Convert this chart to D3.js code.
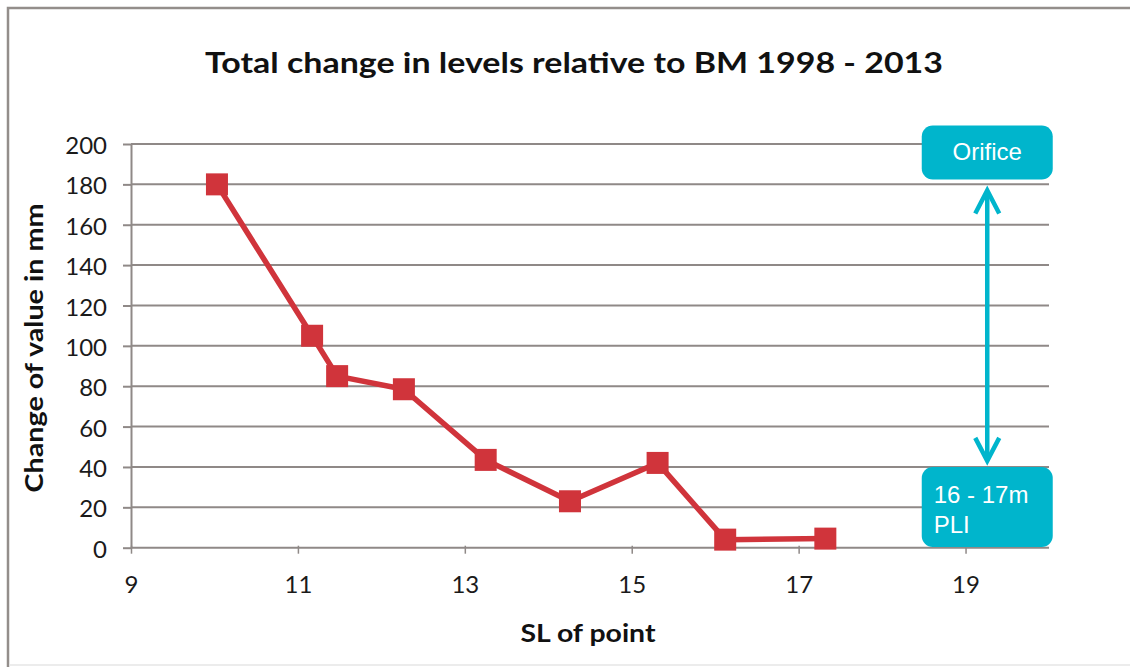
<!DOCTYPE html>
<html>
<head>
<meta charset="utf-8">
<script src="https://cdn.jsdelivr.net/npm/d3@7"></script>
<style>
  html, body { margin: 0; padding: 0; background: #ffffff; }
  svg { display: block; }
</style>
</head>
<body>
<svg id="chart" width="1130" height="667"></svg>
<script>
// Survey points: SL of point vs. total level change (mm)
const slPoints = [10.03, 11.17, 11.47, 12.27, 13.25, 14.26, 15.31, 16.12, 17.32];
const changeMm = [180, 105, 85, 78.5, 43.5, 23, 42, 4, 4.5];

const xTicks = [9, 11, 13, 15, 17, 19];
const yTicks = [0, 20, 40, 60, 80, 100, 120, 140, 160, 180, 200];

const titleText = "Total change in levels relative to BM 1998 - 2013";
const xTitleText = "SL of point";
const yTitleText = "Change of value in mm";

// Range annotation: arrow between the orifice level and the 16 - 17m PLI level
const rangeX = 19.26;
const rangeMm = [43, 177];
const rangeTopLabel = ["Orifice"];
const rangeBottomLabel = ["16 - 17m", "PLI"];

const W = 1130, H = 667;
const plot = { left: 131, right: 1049, top: 144, bottom: 547.7 };

const lineRed = "#d0343b";
const teal = "#00b5cc";
const gridGray = "#8f8987";
const fontMain = "Lato, 'Open Sans', 'DejaVu Sans', sans-serif";

const svg = d3.select("#chart");

const x = d3.scaleLinear().domain([9, 20]).range([plot.left, plot.right]);
const y = d3.scaleLinear().domain([0, 200]).range([plot.bottom, plot.top]);

// Outer frame (top and left edges)
svg.append("path")
  .attr("d", `M8,${H} V8 H${W}`)
  .attr("fill", "none")
  .attr("stroke", "#938e8b")
  .attr("stroke-width", 2.5);
svg.append("line")
  .attr("x1", 9).attr("x2", W).attr("y1", 665).attr("y2", 665)
  .attr("stroke", "#e6e6e6").attr("stroke-width", 1.5);

// Title
svg.append("text")
  .attr("x", 574).attr("y", 73)
  .attr("text-anchor", "middle")
  .attr("font-family", fontMain)
  .attr("font-weight", "bold")
  .attr("font-size", 28)
  .attr("fill", "#111")
  .attr("textLength", 738)
  .attr("lengthAdjust", "spacingAndGlyphs")
  .text(titleText);

// Horizontal gridlines
svg.append("g")
  .selectAll("line")
  .data(yTicks)
  .join("line")
  .attr("x1", plot.left).attr("x2", plot.right)
  .attr("y1", d => y(d)).attr("y2", d => y(d))
  .attr("stroke", gridGray)
  .attr("stroke-width", 2);

// Y axis
const yAxis = svg.append("g")
  .attr("transform", `translate(${plot.left},0)`)
  .call(d3.axisLeft(y).tickValues(yTicks).tickSize(8).tickPadding(16).tickSizeOuter(0));
yAxis.select(".domain").attr("stroke", gridGray).attr("stroke-width", 2);
yAxis.selectAll(".tick line").attr("stroke", gridGray).attr("stroke-width", 2);
yAxis.selectAll(".tick text")
  .attr("font-family", fontMain)
  .attr("font-size", 24)
  .attr("fill", "#1a1a1a")
  .attr("dy", "0.4em");

// X axis
const xAxis = svg.append("g")
  .attr("transform", `translate(0,${plot.bottom})`)
  .call(d3.axisBottom(x).tickValues(xTicks).tickSize(6).tickPadding(22).tickSizeOuter(0));
xAxis.select(".domain").remove();
xAxis.selectAll(".tick line")
  .attr("y1", -2)
  .attr("stroke", gridGray).attr("stroke-width", 1.5);
xAxis.selectAll(".tick text")
  .attr("font-family", fontMain)
  .attr("font-size", 24)
  .attr("fill", "#1a1a1a");

// Axis titles
svg.append("text")
  .attr("x", 588).attr("y", 642)
  .attr("text-anchor", "middle")
  .attr("font-family", fontMain)
  .attr("font-weight", "bold")
  .attr("font-size", 24)
  .attr("fill", "#111")
  .attr("textLength", 135)
  .attr("lengthAdjust", "spacingAndGlyphs")
  .text(xTitleText);

svg.append("text")
  .attr("transform", `translate(43,348) rotate(-90)`)
  .attr("text-anchor", "middle")
  .attr("font-family", fontMain)
  .attr("font-weight", "bold")
  .attr("font-size", 24)
  .attr("fill", "#111")
  .attr("textLength", 289)
  .attr("lengthAdjust", "spacingAndGlyphs")
  .text(yTitleText);

// Data line and square markers
const pts = slPoints.map((s, i) => ({ sl: s, mm: changeMm[i] }));

svg.append("path")
  .datum(pts)
  .attr("fill", "none")
  .attr("stroke", lineRed)
  .attr("stroke-width", 5.5)
  .attr("stroke-linejoin", "round")
  .attr("d", d3.line().x(d => x(d.sl)).y(d => y(d.mm)));

const m = 22;
svg.append("g")
  .selectAll("rect")
  .data(pts)
  .join("rect")
  .attr("x", d => x(d.sl) - m / 2)
  .attr("y", d => y(d.mm) - m / 2)
  .attr("width", m).attr("height", m)
  .attr("fill", lineRed);

// Range annotation
const ax = x(rangeX);
const yTop = y(rangeMm[1]);
const yBot = y(rangeMm[0]);
const ann = svg.append("g");

ann.append("line")
  .attr("x1", ax).attr("x2", ax).attr("y1", yTop + 1).attr("y2", yBot - 1)
  .attr("stroke", teal).attr("stroke-width", 4.5);
ann.append("path")
  .attr("d", `M${ax - 12},${yTop + 23} L${ax},${yTop} L${ax + 12},${yTop + 23}`)
  .attr("fill", "none").attr("stroke", teal).attr("stroke-width", 4.5)
  .attr("stroke-linejoin", "miter");
ann.append("path")
  .attr("d", `M${ax - 12},${yBot - 23} L${ax},${yBot} L${ax + 12},${yBot - 23}`)
  .attr("fill", "none").attr("stroke", teal).attr("stroke-width", 4.5)
  .attr("stroke-linejoin", "miter");

const boxW = 131;
const topBoxH = 54, botBoxH = 80;
const topBoxY = yTop - 11 - topBoxH;
const botBoxY = yBot + 6;

ann.append("rect")
  .attr("x", ax - boxW / 2).attr("y", topBoxY)
  .attr("width", boxW).attr("height", topBoxH)
  .attr("rx", 11).attr("fill", teal);
ann.append("text")
  .attr("x", ax).attr("y", topBoxY + 35)
  .attr("text-anchor", "middle")
  .attr("font-family", "'Liberation Sans', Arial, sans-serif")
  .attr("font-size", 24)
  .attr("fill", "#ffffff")
  .text(rangeTopLabel[0]);

ann.append("rect")
  .attr("x", ax - boxW / 2).attr("y", botBoxY)
  .attr("width", boxW).attr("height", botBoxH)
  .attr("rx", 11).attr("fill", teal);
ann.append("g")
  .selectAll("text")
  .data(rangeBottomLabel)
  .join("text")
  .attr("x", ax - boxW / 2 + 12)
  .attr("y", (d, i) => botBoxY + 36 + i * 30)
  .attr("font-family", "'Liberation Sans', Arial, sans-serif")
  .attr("font-size", 24)
  .attr("fill", "#ffffff")
  .text(d => d);
</script>
</body>
</html>
